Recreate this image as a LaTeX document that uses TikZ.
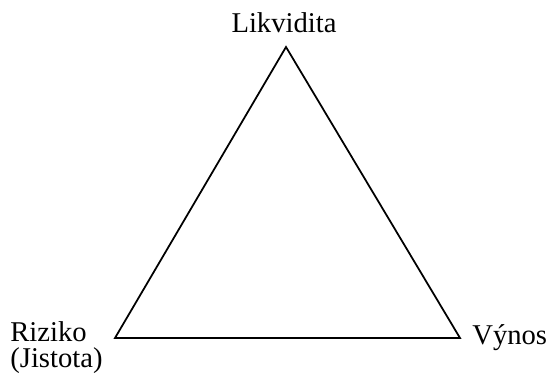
\documentclass[tikz,border=0pt]{standalone}
\usepackage{fontspec}
\setmainfont{Liberation Serif}
\usepackage{tikz}
\usetikzlibrary{positioning}

\tikzset{
  corner label/.style={inner sep=0pt, font=\fontsize{16.3}{15.2}\selectfont, align=left},
  side/.style={line width=1pt, line join=miter}
}

\begin{document}
\begin{tikzpicture}[x=0.02cm, y=-0.02cm]
      \useasboundingbox (0,0) rectangle (548,378);
      \coordinate (top) at (286,47);
      \coordinate (left) at (115,338);
      \coordinate (right) at (460,338);
      \draw[side] (top) -- (right) -- (left) -- cycle;
      \node[corner label, anchor=base] (likvidita) at (284,33) {Likvidita};
      \node[corner label, anchor=north west] (riziko) at (10,321)
        {Riziko\\(Jistota)};
      \node[corner label, anchor=base west] (vynos) at (472,345) {Výnos};
    \end{tikzpicture}
\end{document}
